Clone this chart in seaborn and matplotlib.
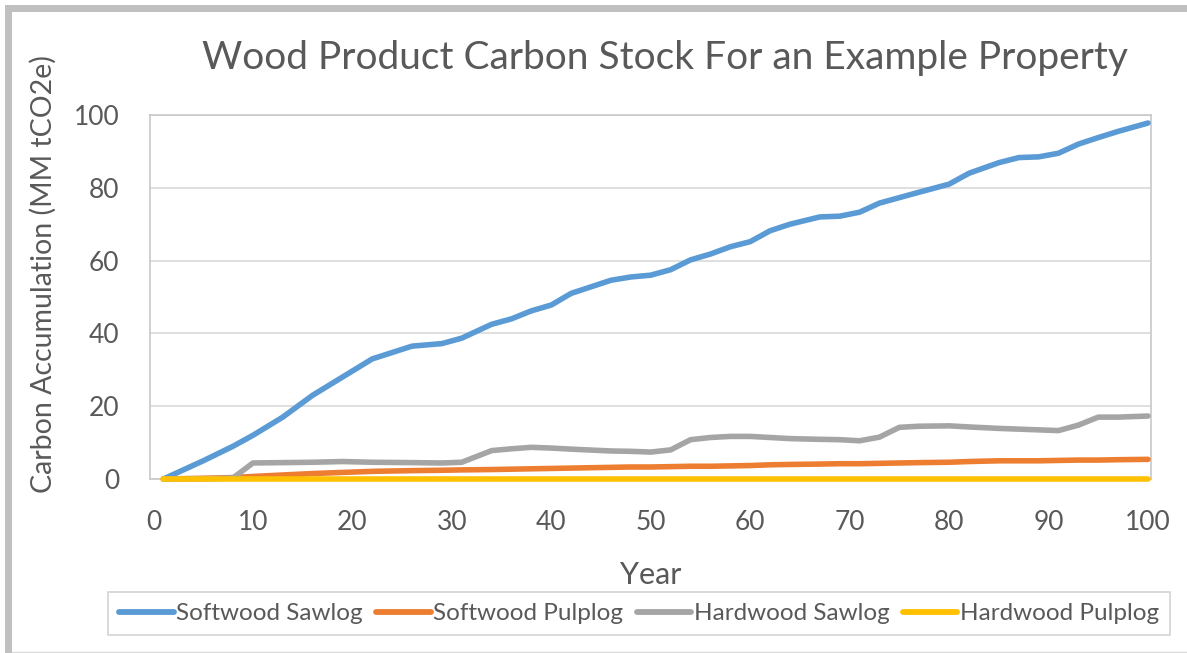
import numpy as np
import pandas as pd
import seaborn as sns
import matplotlib.pyplot as plt
from matplotlib.patches import Rectangle
from matplotlib.lines import Line2D

# values (MM tCO2e by year)
years = [1, 3, 5, 8, 10, 13, 16, 19, 22, 26, 29, 31, 34, 36, 38, 40, 42, 46, 48, 50,
         52, 54, 56, 58, 60, 62, 64, 67, 69, 71, 73, 75, 77, 80, 82, 85, 87, 89, 91,
         93, 95, 97, 100]
softwood_sawlog = [0, 2.5, 5, 9, 12, 17, 23, 28, 33, 36.5, 37.2, 38.7, 42.5, 44, 46.2,
                   47.8, 51, 54.6, 55.5, 56, 57.5, 60.2, 61.8, 63.8, 65.2, 68.2, 70, 72,
                   72.2, 73.3, 75.8, 77.3, 78.8, 81, 84, 86.9, 88.3, 88.5, 89.5, 92, 93.8,
                   95.5, 97.8]
softwood_pulplog = [0, 0.1, 0.2, 0.4, 0.7, 1.1, 1.5, 1.8, 2.1, 2.3, 2.4, 2.5, 2.6, 2.7,
                    2.8, 2.9, 3.0, 3.2, 3.3, 3.3, 3.4, 3.5, 3.5, 3.6, 3.7, 3.9, 4.0, 4.1,
                    4.2, 4.2, 4.3, 4.4, 4.5, 4.6, 4.8, 5.0, 5.0, 5.0, 5.1, 5.2, 5.2, 5.3,
                    5.4]
hardwood_sawlog = [0, 0, 0, 0.3, 4.4, 4.5, 4.6, 4.8, 4.6, 4.5, 4.4, 4.6, 7.8, 8.3, 8.7,
                   8.5, 8.2, 7.7, 7.6, 7.4, 8.0, 10.8, 11.4, 11.7, 11.7, 11.4, 11.1, 10.9,
                   10.8, 10.5, 11.5, 14.2, 14.5, 14.6, 14.3, 13.9, 13.7, 13.5, 13.3, 14.8,
                   17.0, 17.0, 17.3]
hardwood_pulplog = [0] * len(years)

series_names = ["Softwood Sawlog", "Softwood Pulplog", "Hardwood Sawlog", "Hardwood Pulplog"]
colors = ["#5b9bd5", "#ed7d31", "#a5a5a5", "#ffc000"]

df = pd.DataFrame({
    "Year": years,
    "Softwood Sawlog": softwood_sawlog,
    "Softwood Pulplog": softwood_pulplog,
    "Hardwood Sawlog": hardwood_sawlog,
    "Hardwood Pulplog": hardwood_pulplog,
})
df = df.melt(id_vars="Year", var_name="Series", value_name="Carbon")

sns.set_theme(style="white")
plt.rcParams["font.family"] = ["Lato", "DejaVu Sans"]
text_color = "#595959"

fig = plt.figure(figsize=(11.87, 6.53), dpi=100)
ax = fig.add_axes([150 / 1187, 1 - 479 / 653, 1000.7 / 1187, 364 / 653])

sns.lineplot(data=df, x="Year", y="Carbon", hue="Series", hue_order=series_names,
             palette=colors, linewidth=4.0, ax=ax, legend=False,
             solid_capstyle="round", solid_joinstyle="round")
for i, ln in enumerate(ax.lines):
    ln.set_clip_on(False)
    ln.set_zorder(3 + i)

ax.set_xlim(-0.35, 100.27)
ax.set_ylim(0, 100)
ax.set_xticks(range(0, 101, 10))
ax.set_yticks(range(0, 101, 20))
ax.tick_params(axis="both", length=0, labelsize=19, labelcolor=text_color, pad=22)
ax.yaxis.grid(True, color="#d9d9d9", linewidth=1.2)
ax.set_axisbelow(True)
for s in ax.spines.values():
    s.set_color("#c8c8c8")
    s.set_linewidth(1.2)

ax.set_xlabel("Year", fontsize=22, color=text_color)
ax.xaxis.set_label_coords(651 / 1187, 1 - 561 / 653, transform=fig.transFigure)
ax.set_ylabel("Carbon Accumulation (MM tCO2e)", fontsize=20.5, color=text_color)
ax.yaxis.set_label_coords(57 / 1187, 1 - 274 / 653, transform=fig.transFigure)

fig.text(665 / 1187, 1 - 58 / 653, "Wood Product Carbon Stock For an Example Property",
         ha="center", va="center", fontsize=28, color=text_color)

handles = [Line2D([0], [0], color=c, linewidth=4.2, solid_capstyle="round") for c in colors]
leg = fig.legend(handles, series_names, loc="center", ncol=4,
                 bbox_to_anchor=(639 / 1187, 1 - 613.5 / 653),
                 frameon=True, fancybox=False, fontsize=17.5, handlelength=2.25,
                 handletextpad=0.1, columnspacing=0.55, borderpad=0.45,
                 borderaxespad=0)
leg.get_frame().set_edgecolor("#c8c8c8")
leg.get_frame().set_linewidth(1.2)
for t in leg.get_texts():
    t.set_color(text_color)

# outer chart border
fig.add_artist(Rectangle((5 / 1187, 0), 7 / 1187, 1 - 5 / 653, transform=fig.transFigure,
                         facecolor="#c0c0c0", edgecolor="none"))
fig.add_artist(Rectangle((5 / 1187, 1 - 12 / 653), 1, 7 / 653, transform=fig.transFigure,
                         facecolor="#c0c0c0", edgecolor="none"))
fig.add_artist(Line2D([12 / 1187, 1], [1.5 / 653, 1.5 / 653], transform=fig.transFigure,
                      color="#d9d9d9", linewidth=1))

fig.savefig("out.png", dpi=100)
